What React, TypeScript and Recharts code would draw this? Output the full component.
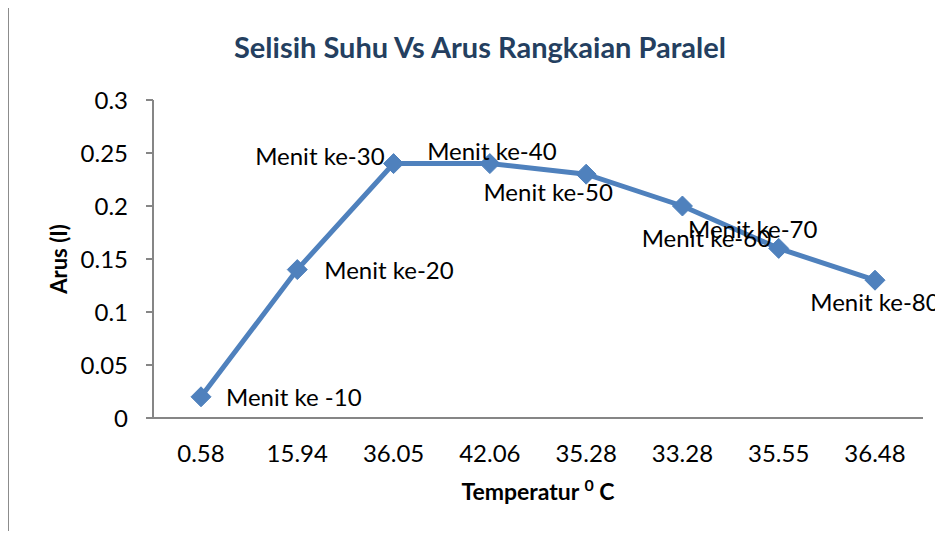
import { LineChart, Line, XAxis, YAxis, LabelList, Label } from "recharts"

// Temperatur (category axis) vs Arus (I)
const temperatures = ["0.58", "15.94", "36.05", "42.06", "35.28", "33.28", "35.55", "36.48"]
const currents = [0.02, 0.14, 0.24, 0.24, 0.23, 0.2, 0.16, 0.13]
const pointLabels = [
  "Menit ke -10",
  "Menit ke-20",
  "Menit ke-30",
  "Menit ke-40",
  "Menit ke-50",
  "Menit ke-60",
  "Menit ke-70",
  "Menit ke-80",
]
const yTicks = [0, 0.05, 0.1, 0.15, 0.2, 0.25, 0.3]

const data = temperatures.map((t, i) => ({ temp: t, arus: currents[i], label: pointLabels[i] }))

// label placement relative to each point (dx, dy, anchor)
const labelOffsets: [number, number, string][] = [
  [25, 0, "start"],
  [27, 0, "start"],
  [-9, -8, "end"],
  [2, -13, "middle"],
  [-38, 17, "middle"],
  [24, 31, "middle"],
  [-26, -20, "middle"],
  [0, 21, "middle"],
]

const FONT = "Lato, 'Open Sans', sans-serif"
const BLUE = "#4F81BD"

function Diamond(props: any) {
  const { cx, cy } = props
  if (cx == null || cy == null) return null
  const s = 10
  return (
    <polygon
      points={`${cx},${cy - s} ${cx + s},${cy} ${cx},${cy + s} ${cx - s},${cy}`}
      fill={BLUE}
      stroke={BLUE}
    />
  )
}

function PointLabel(props: any) {
  const { x, y, value, index } = props
  const [dx, dy, anchor] = labelOffsets[index]
  return (
    <text
      x={x + dx}
      y={y + dy}
      textAnchor={anchor}
      dominantBaseline="central"
      fontSize={24}
      fontFamily={FONT}
      fill="#000"
    >
      {value}
    </text>
  )
}

export default function App() {
  return (
    <div
      style={{
        margin: -8,
        position: "relative",
        width: 943,
        height: 539,
        overflow: "hidden",
        background: "#fff",
      }}
    >
      <div
        style={{
          position: "absolute",
          left: 8,
          top: 7,
          width: 980,
          height: 580,
          border: "1px solid #8c8c8c",
        }}
      />
      <div
        style={{
          position: "absolute",
          left: 0,
          width: 960,
          top: 29,
          textAlign: "center",
          fontFamily: FONT,
          fontWeight: 700,
          fontSize: 29,
          color: "#243F60",
        }}
      >
        Selisih Suhu Vs Arus Rangkaian Paralel
      </div>
      <div style={{ position: "absolute", left: 0, top: 0 }}>
        <LineChart
          width={943}
          height={539}
          data={data}
          margin={{ top: 100, right: 20, bottom: 31, left: 60 }}
        >
          <XAxis
            dataKey="temp"
            stroke="#868686"
            strokeWidth={2}
            tickLine={false}
            tickSize={0}
            tickMargin={27}
            height={90}
            padding={{ left: 48, right: 48 }}
            tick={{ fill: "#000", fontSize: 24, fontFamily: FONT }}
            interval={0}
          >
            <Label
              content={({ viewBox }: any) => (
                <text
                  x={viewBox.x + viewBox.width / 2}
                  y={viewBox.y + 82}
                  textAnchor="middle"
                  fontFamily={FONT}
                  fontWeight={700}
                  fontSize={23}
                  fill="#000"
                >
                  Temperatur{" "}
                  <tspan fontSize={16} dy={-9}>
                    0
                  </tspan>
                  <tspan dy={9}> C</tspan>
                </text>
              )}
            />
          </XAxis>
          <YAxis
            type="number"
            domain={[0, 0.3]}
            ticks={yTicks}
            width={93}
            stroke="#868686"
            strokeWidth={2}
            tickSize={7}
            tickMargin={18}
            tick={{ fill: "#000", fontSize: 24, fontFamily: FONT }}
            interval={0}
          >
            <Label
              content={({ viewBox }: any) => (
                <text
                  x={viewBox.x - 2}
                  y={viewBox.y + viewBox.height / 2}
                  transform={`rotate(-90 ${viewBox.x - 2} ${viewBox.y + viewBox.height / 2})`}
                  textAnchor="middle"
                  dominantBaseline="central"
                  fontFamily={FONT}
                  fontWeight={700}
                  fontSize={22}
                  fill="#000"
                >
                  Arus (I)
                </text>
              )}
            />
          </YAxis>
          <Line
            type="linear"
            dataKey="arus"
            stroke={BLUE}
            strokeWidth={5}
            dot={<Diamond />}
            activeDot={false}
            isAnimationActive={false}
          >
            <LabelList dataKey="label" content={<PointLabel />} />
          </Line>
        </LineChart>
      </div>
    </div>
  )
}
